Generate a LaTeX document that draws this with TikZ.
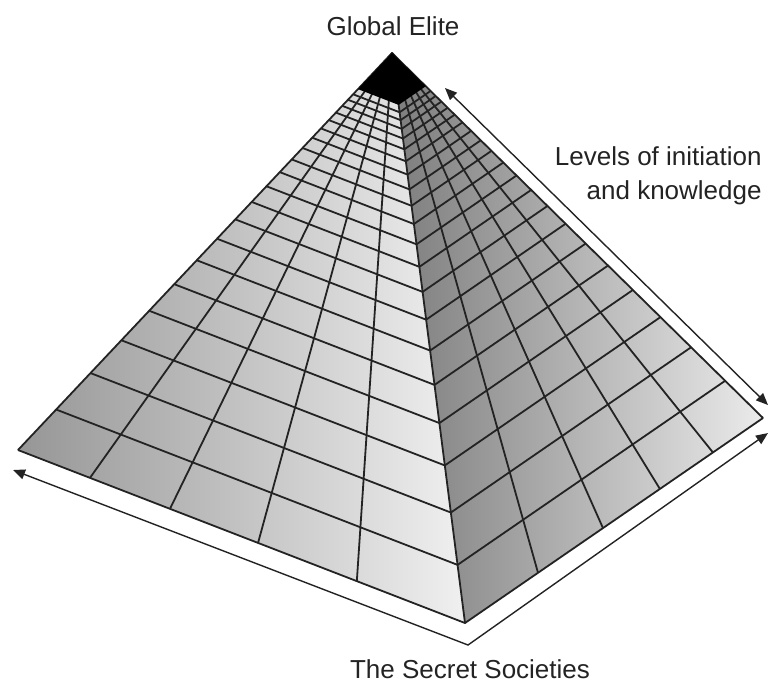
\documentclass[tikz,border=0pt]{standalone}
\usepackage{fontspec}
\setmainfont{Liberation Sans}
\usepackage{tikz}
\usetikzlibrary{calc, arrows.meta}
\definecolor{inkgray}{RGB}{35,35,35}
\definecolor{leftdark}{RGB}{150,150,150}
\definecolor{leftlight}{RGB}{240,240,240}
\definecolor{rightdark}{RGB}{125,125,125}
\definecolor{rightlight}{RGB}{235,235,235}

\begin{document}
\begin{tikzpicture}[
    x=0.5pt, y=-0.5pt,
    gridline/.style={line width=0.9pt, color=inkgray, line join=round},
    arrow/.style={line width=0.7pt, color=inkgray, {Triangle[length=6pt,width=5pt]}-{Triangle[length=6pt,width=5pt]}},
    caption/.style={inner sep=0pt, color=inkgray, font=\fontsize{13}{17}\selectfont}
]
\useasboundingbox (0,0) rectangle (770,682);

\coordinate (apex) at (392,53);
\coordinate (left) at (18,450);
\coordinate (front) at (465,623);
\coordinate (right) at (763,418);

\shade [left color=leftdark, right color=leftlight] (apex) -- (left) -- (front) -- cycle;
\shade [left color=rightdark, right color=rightlight] (apex) -- (front) -- (right) -- cycle;

\foreach \k in {0,...,20} {
  \pgfmathsetmacro{\t}{1-1.02*(1-0.9^\k)}
  \draw [gridline] ($(apex)!\t!(left)$) -- ($(apex)!\t!(front)$) -- ($(apex)!\t!(right)$);
}
\foreach \s in {0.161,0.340,0.537,0.758}
  \draw [gridline] (apex) -- ($(left)!\s!(front)$);
\foreach \s in {0.245,0.463,0.654,0.832}
  \draw [gridline] (apex) -- ($(front)!\s!(right)$);
\draw [gridline] (left) -- (apex) -- (right) (apex) -- (front);

\fill [black] (apex) -- ($(apex)!0.091!(left)$) -- ($(apex)!0.091!(front)$) -- ($(apex)!0.091!(right)$) -- cycle;

\coordinate (levtop) at (445,88);
\coordinate (levbot) at (768,405);
\coordinate (socleft) at (13,470);
\coordinate (soccorner) at (468,645);
\coordinate (socright) at (768,433);
\draw [arrow] (levtop) -- (levbot);
\draw [arrow] (socleft) -- (soccorner) -- (socright);

\node (elite) [caption, anchor=base] at (393,35) {Global Elite};
\node (levels) [caption, anchor=east, align=right] at (762,176) {Levels of initiation\\and knowledge};
\node (societies) [caption, anchor=base] at (470,678) {The Secret Societies};

\end{tikzpicture}
\end{document}
